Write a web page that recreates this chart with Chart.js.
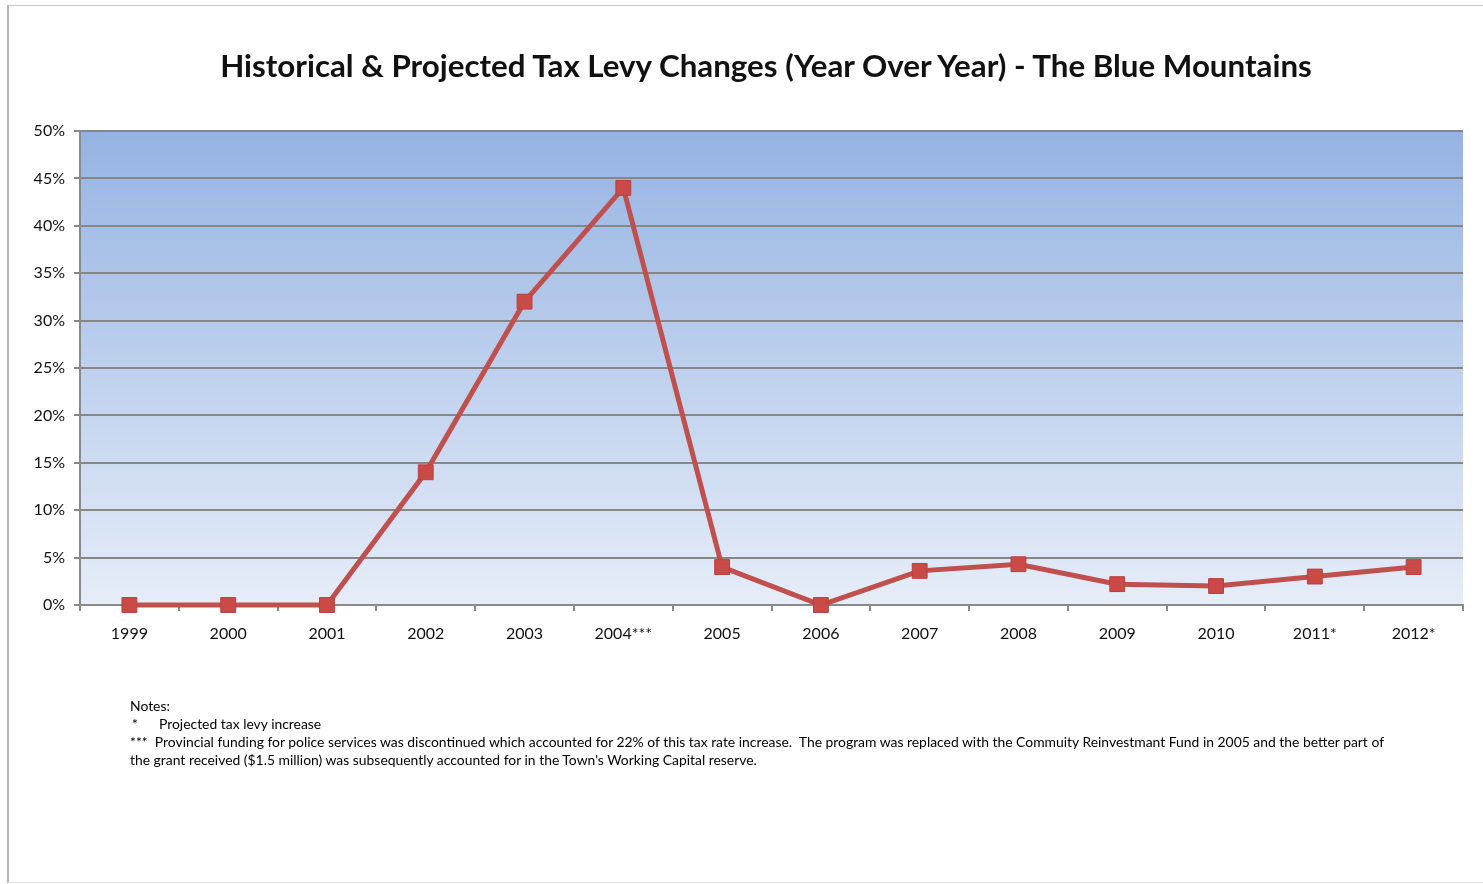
<!DOCTYPE html>
<html>
<head>
<meta charset="utf-8">
<script src="https://cdn.jsdelivr.net/npm/chart.js@4/dist/chart.umd.min.js"></script>
<style>
  html, body { margin: 0; padding: 0; background: #fff; overflow: hidden; }
  #frame { position: absolute; left: 7px; top: 5px; width: 1490px; height: 876px;
           border-left: 2px solid #b4b4b4; border-top: 1px solid #c8c8c8; border-bottom: 1px solid #e2e2e2; }
  #wrap { position: absolute; left: 0; top: 0; width: 1483px; height: 884px; }
  #title { position: absolute; left: 166px; width: 1200px; top: 46px; text-align: center;
           font-family: "Lato", sans-serif; font-weight: bold; font-size: 31.3px; color: #111; white-space: nowrap; }
  .note { position: absolute; font-family: "Lato", sans-serif; font-size: 13.9px;
          color: #000; white-space: nowrap; }
</style>
</head>
<body>
<div id="frame"></div>
<div id="wrap"><canvas id="levyChart" width="1483" height="884"></canvas></div>
<div id="title">Historical &amp; Projected Tax Levy Changes (Year Over Year) - The Blue Mountains</div>
<div class="note" style="left:130px; top:697px;">Notes:</div>
<div class="note" style="left:132px; top:715px;">*</div>
<div class="note" style="left:159px; top:715px;">Projected tax levy increase</div>
<div class="note" style="left:130px; top:733px;">***&nbsp; Provincial funding for police services was discontinued which accounted for 22% of this tax rate increase.&nbsp; The program was replaced with the Commuity Reinvestmant Fund in 2005 and the better part of</div>
<div class="note" style="left:130px; top:751px;">the grant received ($1.5 million) was subsequently accounted for in the Town's Working Capital reserve.</div>
<script>
var years = ['1999', '2000', '2001', '2002', '2003', '2004***', '2005', '2006', '2007', '2008', '2009', '2010', '2011*', '2012*'];
var levyChange = [0, 0, 0, 14, 32, 44, 4, 0, 3.6, 4.3, 2.2, 2, 3, 4];
var yTicks = [0, 5, 10, 15, 20, 25, 30, 35, 40, 45, 50];

// gradient behind the plot area
var plotBackground = {
  id: 'plotBackground',
  beforeDraw: function(chart) {
    var a = chart.chartArea, ctx = chart.ctx;
    var g = ctx.createLinearGradient(0, a.top, 0, a.bottom);
    g.addColorStop(0, '#95b3e2');
    g.addColorStop(1, '#e6edf8');
    ctx.save();
    ctx.fillStyle = g;
    ctx.fillRect(a.left, a.top, a.right - a.left, a.bottom - a.top);
    ctx.restore();
  }
};

var ctx = document.getElementById('levyChart').getContext('2d');
var levyChart = new Chart(ctx, {
  type: 'line',
  data: {
    labels: years,
    datasets: [{
      data: levyChange,
      borderColor: '#c0504d',
      borderWidth: 5,
      pointStyle: 'rect',
      pointRadius: 10.5,
      pointBackgroundColor: '#c94a46',
      pointBorderColor: '#b8403d',
      pointBorderWidth: 1,
      tension: 0,
      clip: false
    }]
  },
  options: {
    responsive: false,
    animation: false,
    layout: { padding: { left: 0, right: 20, top: 131, bottom: 229 } },
    plugins: {
      legend: { display: false },
      tooltip: { enabled: false },
      title: { display: false }
    },
    scales: {
      x: {
        offset: true,
        grid: { offset: true, drawOnChartArea: false, drawTicks: true, tickLength: 6, color: '#8a8a8a', lineWidth: 2 },
        border: { color: '#8a8a8a', width: 2 },
        ticks: { color: '#111', font: { family: 'Lato', size: 16 }, padding: 13, maxRotation: 0 },
        afterFit: function(s) { s.height = 50; }
      },
      y: {
        min: 0, max: 50,
        afterBuildTicks: function(s) { s.ticks = yTicks.map(function(v) { return { value: v }; }); },
        grid: { color: '#878787', lineWidth: 2, tickLength: 6 },
        border: { color: '#8a8a8a', width: 2 },
        ticks: { color: '#111', font: { family: 'Lato', size: 16 }, padding: 9,
                 callback: function(v) { return v + '%'; } },
        afterFit: function(s) { s.width = 80; }
      }
    }
  },
  plugins: [plotBackground]
});
</script>
</body>
</html>
